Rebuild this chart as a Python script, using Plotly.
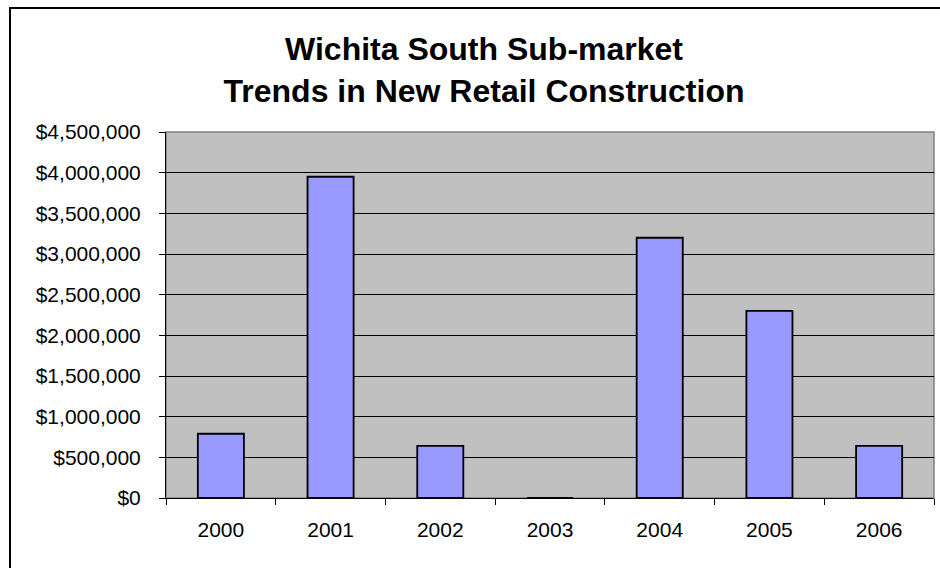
import plotly.graph_objects as go

years = ["2000", "2001", "2002", "2003", "2004", "2005", "2006"]
values = [790000, 3950000, 640000, 0, 3200000, 2300000, 640000]
title_lines = ["Wichita South Sub-market", "Trends in New Retail Construction"]

W, H = 940, 568
L, R, T, B = 166, 6, 132, 70
pw, ph = W - L - R, H - T - B

font = "Arial, Liberation Sans, sans-serif"

fig = go.Figure()
fig.add_trace(go.Bar(
    x=years, y=values,
    marker=dict(color="#9999FF", line=dict(color="black", width=1.8)),
    width=0.42,
))

shapes = [
    dict(type="rect", xref="paper", yref="paper", x0=0, x1=1, y0=0, y1=1,
         fillcolor="#C0C0C0", line=dict(color="#808080", width=1.5), layer="below"),
    dict(type="rect", xref="paper", yref="paper",
         x0=(10 - L) / pw, x1=(980 - L) / pw,
         y0=-(600 - (H - B)) / ph, y1=((H - B) - 8) / ph,
         fillcolor="rgba(0,0,0,0)", line=dict(color="black", width=2), layer="above"),
]

fig.update_layout(
    width=W, height=H,
    margin=dict(l=L, r=R, t=T, b=B, autoexpand=False),
    paper_bgcolor="white",
    plot_bgcolor="rgba(0,0,0,0)",
    showlegend=False,
    shapes=shapes,
    title=dict(
        text="<br>".join(title_lines),
        x=484 / W, xanchor="center", xref="container",
        y=1 - 60 / H, yanchor="top", yref="container",
        font=dict(family=font, size=32, color="black", weight="bold"),
    ),
    font=dict(family=font, color="black"),
    bargap=0.58,
)

fig.update_xaxes(
    type="category",
    showline=True, linecolor="black", linewidth=1,
    ticks="outside", tickson="boundaries", ticklen=6, tickcolor="black", tickwidth=1,
    tickfont=dict(family=font, size=21, color="black"),
    ticklabelstandoff=13,
    showgrid=False,
)
fig.update_yaxes(
    range=[0, 4500000], dtick=500000, tick0=0,
    tickformat="$,.0f",
    showline=True, linecolor="black", linewidth=1,
    ticks="outside", ticklen=6, tickcolor="black", tickwidth=1,
    tickfont=dict(family=font, size=21, color="black"),
    ticklabelstandoff=14,
    showgrid=True, gridcolor="black", gridwidth=1,
    zeroline=True, zerolinecolor="black", zerolinewidth=1,
)

fig.write_html("out.html")
